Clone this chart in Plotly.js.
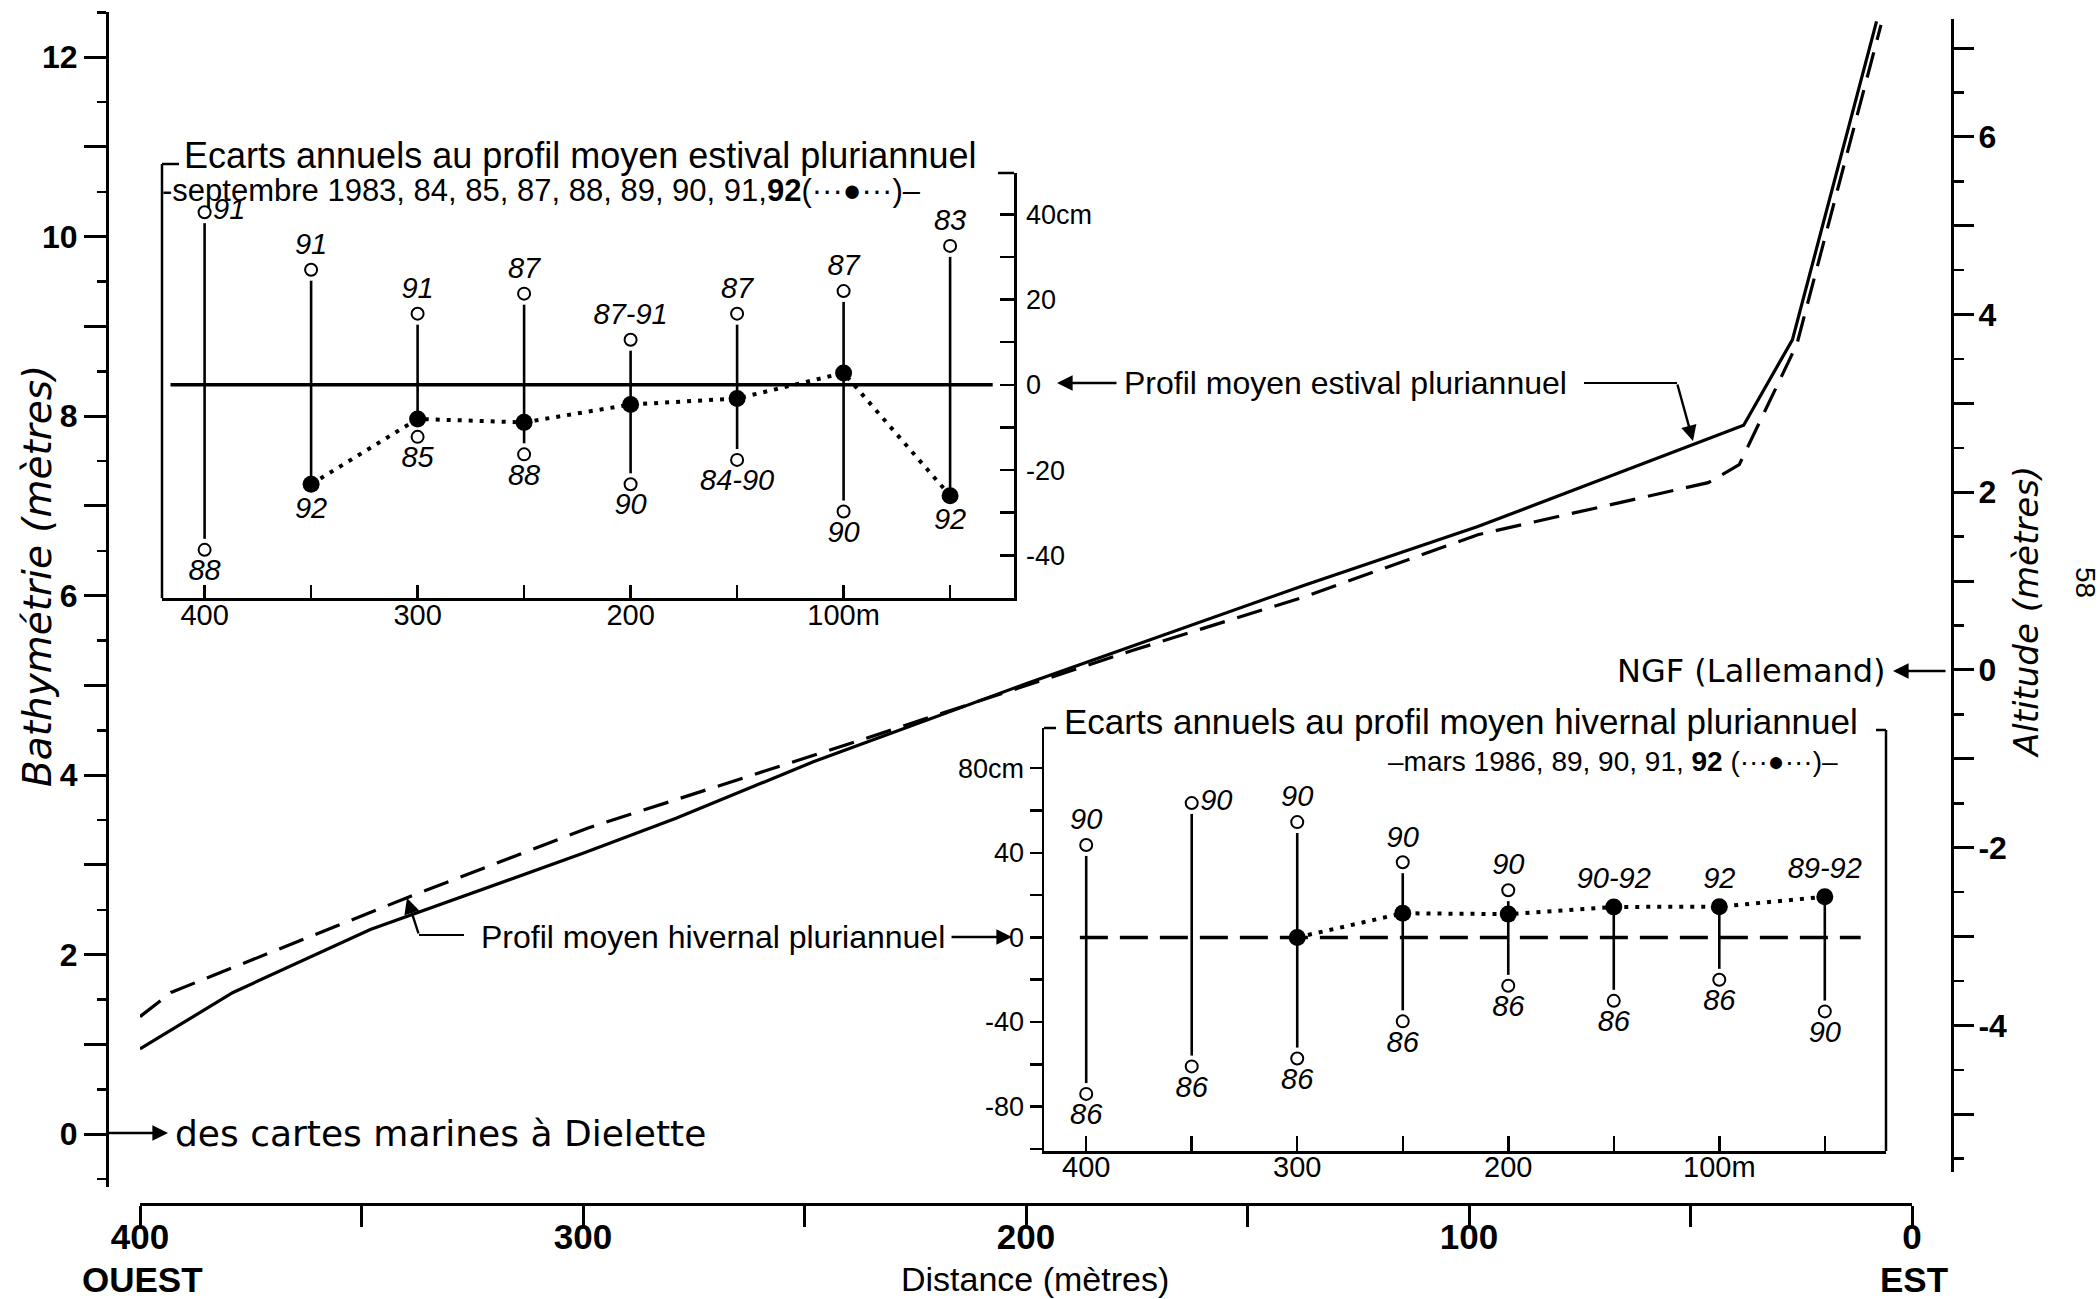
<!DOCTYPE html>
<html>
<head>
<meta charset="utf-8">
<script src="https://cdn.plot.ly/plotly-3.0.1.min.js"></script>
<style>html,body{margin:0;padding:0;background:#fff;}#chart{width:2100px;height:1299px;}</style>
</head>
<body>
<div id="chart"></div>
<script>
// ---------------- DATA ----------------
// Main profiles (distance in m from the east end, bathymetry in m)
const estivalX = [400, 379, 348, 300, 279, 248, 200, 137, 98, 38, 27, 8];
const estivalDepth = [0.95, 1.58, 2.28, 3.13, 3.52, 4.15, 5.02, 6.12, 6.77, 7.90, 8.85, 12.40];
const hivernalX = [400, 393, 340, 299, 238, 200, 176, 137, 98, 46, 39, 26, 7];
const hivernalDepth = [1.31, 1.58, 2.63, 3.41, 4.38, 5.00, 5.39, 5.99, 6.68, 7.26, 7.46, 8.80, 12.36];

// Inset stations
const stations = [400, 350, 300, 250, 200, 150, 100, 50];

// Summer inset (cm)
const summerHigh = [40.5, 27.0, 16.7, 21.4, 10.6, 16.7, 22.0, 32.6];
const summerHighYear = ['91', '91', '91', '87', '87-91', '87', '87', '83'];
const summerLow = [-38.7, null, -12.2, -16.3, -23.3, -17.6, -29.7, null];
const summerLowYear = ['88', '', '85', '88', '90', '84-90', '90', ''];
const summer92 = [null, -23.3, -8.0, -8.8, -4.6, -3.2, 2.8, -26.0];
const summer92Year = ['', '92', '', '', '', '', '', '92'];

// Winter inset (cm)
const winterHigh = [43.7, 63.5, 54.5, 35.5, 22.3, null, null, null];
const winterHighYear = ['90', '90', '90', '90', '90', '', '', ''];
const winterLow = [-74.0, -61.0, -57.3, -39.7, -22.9, -30.0, -20.0, -35.0];
const winterLowYear = ['86', '86', '86', '86', '86', '86', '86', '90'];
const winter92 = [null, null, 0, 11.4, 11.0, 14.4, 14.5, 19.2];
const winter92Year = ['', '', '', '', '', '90-92', '92', '89-92'];

// Tick labels
const distTickVals = [0, 50, 100, 150, 200, 250, 300, 350, 400];
const distTickText = ['0', '', '100', '', '200', '', '300', '', '400'];
const bathyTickVals = [0, 1, 2, 3, 4, 5, 6, 7, 8, 9, 10, 11, 12];
const bathyTickText = ['0', '', '2', '', '4', '', '6', '', '8', '', '10', '', '12'];
const altTickVals = [-5, -4, -3, -2, -1, 0, 1, 2, 3, 4, 5, 6, 7];
const altTickText = ['', '-4', '', '-2', '', '0', '', '2', '', '4', '', '6', ''];
const insetTickVals = [400, 350, 300, 250, 200, 150, 100, 50];
const insetTickText = ['400', '', '300', '', '200', '', '100m', ''];
const summerCmVals = [-40, -20, 0, 20, 40];
const summerCmText = ['-40', '-20', '0', '20', '40cm'];
const winterCmVals = [-80, -40, 0, 40, 80];
const winterCmText = ['-80', '-40', '0', '40', '80cm'];

// ---------------- HELPERS ----------------
const W = 2100, H = 1299;
const fx = p => p / W;
const fy = p => 1 - p / H;
const FONT = 'Liberation Sans, Arial, Helvetica, sans-serif';
const WIDE = 'DejaVu Sans, Verdana, sans-serif';

function segments(xs, a, b, c) {
  const X = [], Y = [];
  xs.forEach((x, i) => {
    const vals = [a[i], b[i], c[i]].filter(v => v !== null && v !== undefined);
    if (vals.length < 2) return;
    X.push(x, x, null);
    Y.push(Math.max(...vals), Math.min(...vals), null);
  });
  return {X, Y};
}

function insetTraces(xa, ya, high, highYr, low, lowYr, v92, yr92, highPos, pos92) {
  const seg = segments(stations, high, low, v92);
  const labelFont = {family: FONT, size: 29, style: 'italic', color: 'black'};
  const pts = [], ptsY = [];
  stations.forEach((x, i) => {
    if (high[i] !== null) { pts.push(x); ptsY.push(high[i]); }
    if (low[i] !== null) { pts.push(x); ptsY.push(low[i]); }
  });
  return [
    {x: seg.X, y: seg.Y, xaxis: xa, yaxis: ya, mode: 'lines', line: {color: 'black', width: 2.6}, hoverinfo: 'skip'},
    {x: pts, y: ptsY, xaxis: xa, yaxis: ya, mode: 'markers', marker: {color: 'white', size: 22, line: {width: 0}}, hoverinfo: 'skip'},
    {x: stations, y: v92, xaxis: xa, yaxis: ya, mode: 'lines', connectgaps: false,
     line: {color: 'black', width: 4, dash: '4px,7px'}, hoverinfo: 'skip'},
    {x: stations, y: high, text: highYr, xaxis: xa, yaxis: ya, mode: 'markers+text', textposition: highPos,
     textfont: labelFont, marker: {color: 'white', size: 12, line: {color: 'black', width: 2}}, hoverinfo: 'skip'},
    {x: stations, y: low, text: lowYr, xaxis: xa, yaxis: ya, mode: 'markers+text', textposition: 'bottom center',
     textfont: labelFont, marker: {color: 'white', size: 12, line: {color: 'black', width: 2}}, hoverinfo: 'skip'},
    {x: stations, y: v92, text: yr92, xaxis: xa, yaxis: ya, mode: 'markers+text', textposition: pos92,
     textfont: labelFont, marker: {color: 'black', size: 17}, hoverinfo: 'skip'}
  ];
}

// ---------------- TRACES ----------------
const traces = [
  {x: estivalX, y: estivalDepth, mode: 'lines', line: {color: 'black', width: 3.2}, xaxis: 'x', yaxis: 'y', hoverinfo: 'skip'},
  {x: hivernalX, y: hivernalDepth, mode: 'lines', line: {color: 'black', width: 3.2, dash: '26px,13px'}, xaxis: 'x', yaxis: 'y', hoverinfo: 'skip'},
  {x: [200], y: [0], mode: 'markers', marker: {opacity: 0}, xaxis: 'x', yaxis: 'y5', hoverinfo: 'skip'}
].concat(
  insetTraces('x2', 'y2', summerHigh, summerHighYear, summerLow, summerLowYear, summer92, summer92Year,
    ['middle right', 'top center', 'top center', 'top center', 'top center', 'top center', 'top center', 'top center'],
    'bottom center'),
  insetTraces('x3', 'y3', winterHigh, winterHighYear, winterLow, winterLowYear, winter92, winter92Year,
    ['top center', 'middle right', 'top center', 'top center', 'top center', 'top center', 'top center', 'top center'],
    'top center')
);

// ---------------- LAYOUT ----------------
const axBase = {showgrid: false, zeroline: false, showline: true, linecolor: 'black', tickcolor: 'black', fixedrange: true};
const tickF = s => ({family: FONT, size: s, color: 'black'});

const layout = {
  width: W, height: H,
  margin: {l: 0, r: 0, t: 0, b: 0},
  paper_bgcolor: 'white', plot_bgcolor: 'rgba(0,0,0,0)',
  showlegend: false,
  font: {family: FONT, color: 'black'},
  xaxis: Object.assign({}, axBase, {
    domain: [fx(140), fx(1912)], range: [400, 0], anchor: 'free', position: fy(1204),
    linewidth: 3, ticks: 'outside', ticklen: 21, tickwidth: 3,
    tickmode: 'array', tickvals: distTickVals, ticktext: distTickText,
    tickfont: {family: FONT, size: 35, weight: 'bold', color: 'black'}, ticklabelstandoff: -20
  }),
  yaxis: Object.assign({}, axBase, {
    domain: [fy(1187), fy(12.4)], range: [-0.588, 12.499], anchor: 'free', position: fx(107),
    linewidth: 3, ticks: 'outside', ticklen: 22, tickwidth: 3,
    tickmode: 'array', tickvals: bathyTickVals, ticktext: bathyTickText,
    minor: {dtick: 0.5, tick0: 0, ticks: 'outside', ticklen: 9, tickwidth: 2.5, tickcolor: 'black'},
    tickfont: {family: FONT, size: 32, weight: 'bold', color: 'black'}, ticklabelstandoff: 0
  }),
  yaxis5: Object.assign({}, axBase, {
    domain: [fy(1172), fy(18.7)], range: [-5.65, 7.33], anchor: 'free', position: fx(1952), side: 'right',
    linewidth: 3, ticks: 'outside', ticklen: 20, tickwidth: 3,
    tickmode: 'array', tickvals: altTickVals, ticktext: altTickText,
    minor: {dtick: 0.5, tick0: 0, ticks: 'outside', ticklen: 10, tickwidth: 2.5, tickcolor: 'black'},
    tickfont: {family: FONT, size: 32, weight: 'bold', color: 'black'}, ticklabelstandoff: -2
  }),
  xaxis2: Object.assign({}, axBase, {
    domain: [fx(162), fx(1014)], range: [420, 20], anchor: 'y2',
    linewidth: 2.5, ticks: 'inside', ticklen: 13, tickwidth: 2.5,
    tickmode: 'array', tickvals: insetTickVals, ticktext: insetTickText,
    tickfont: tickF(29), ticklabelstandoff: -10
  }),
  yaxis2: Object.assign({}, axBase, {
    domain: [fy(598), fy(173)], range: [-50, 49.7], anchor: 'x2', side: 'right',
    linewidth: 2.5, ticks: 'inside', ticklen: 14, tickwidth: 2.5,
    tickmode: 'array', tickvals: summerCmVals, ticktext: summerCmText,
    minor: {dtick: 10, tick0: 0, ticks: 'inside', ticklen: 14, tickwidth: 2.5, tickcolor: 'black'},
    tickfont: tickF(27), ticklabelstandoff: 4
  }),
  xaxis3: Object.assign({}, axBase, {
    domain: [fx(1044), fx(1886)], range: [420, 21], anchor: 'y3',
    linewidth: 2.5, ticks: 'inside', ticklen: 15, tickwidth: 2.5,
    tickmode: 'array', tickvals: insetTickVals, ticktext: insetTickText,
    tickfont: tickF(29), ticklabelstandoff: -11
  }),
  yaxis3: Object.assign({}, axBase, {
    domain: [fy(1151), fy(728)], range: [-101, 99], anchor: 'x3', side: 'left',
    linewidth: 2.5, ticks: 'outside', ticklen: 12, tickwidth: 2.5,
    tickmode: 'array', tickvals: winterCmVals, ticktext: winterCmText,
    minor: {dtick: 20, tick0: 0, ticks: 'outside', ticklen: 12, tickwidth: 2.5, tickcolor: 'black'},
    tickfont: tickF(27), ticklabelstandoff: 0
  }),
  shapes: [
    // inset reference profiles (zero lines)
    {type: 'line', xref: 'x2', yref: 'y2', x0: 416, x1: 30, y0: 0, y1: 0, layer: 'below', line: {color: 'black', width: 3.5}},
    {type: 'line', xref: 'x3', yref: 'y3', x0: 403, x1: 33, y0: 0, y1: 0, layer: 'below', line: {color: 'black', width: 3.5, dash: '28px,12px'}},
    // summer inset frame
    {type: 'line', xref: 'paper', yref: 'paper', x0: fx(162), x1: fx(162), y0: fy(164), y1: fy(598), line: {color: 'black', width: 2.5}},
    {type: 'line', xref: 'paper', yref: 'paper', x0: fx(162), x1: fx(179), y0: fy(164), y1: fy(164), line: {color: 'black', width: 2.5}},
    {type: 'line', xref: 'paper', yref: 'paper', x0: fx(998), x1: fx(1014), y0: fy(173), y1: fy(173), line: {color: 'black', width: 2.5}},
    // winter inset frame
    {type: 'line', xref: 'paper', yref: 'paper', x0: fx(1886), x1: fx(1886), y0: fy(730), y1: fy(1151), line: {color: 'black', width: 2.5}},
    {type: 'line', xref: 'paper', yref: 'paper', x0: fx(1876), x1: fx(1886), y0: fy(730), y1: fy(730), line: {color: 'black', width: 2.5}},
    {type: 'line', xref: 'paper', yref: 'paper', x0: fx(1044), x1: fx(1056), y0: fy(728), y1: fy(728), line: {color: 'black', width: 2.5}},
    // leader lines
    {type: 'line', xref: 'paper', yref: 'paper', x0: fx(1584), x1: fx(1677), y0: fy(383), y1: fy(383), line: {color: 'black', width: 2.2}},
    {type: 'line', xref: 'paper', yref: 'paper', x0: fx(419), x1: fx(464), y0: fy(935), y1: fy(935), line: {color: 'black', width: 2.2}}
  ],
  annotations: []
};

function txt(text, x, y, opts) {
  layout.annotations.push(Object.assign({
    text: text, x: fx(x), y: fy(y), xref: 'paper', yref: 'paper', showarrow: false,
    xanchor: 'center', yanchor: 'middle', font: {family: FONT, size: 30, color: 'black'}
  }, opts || {}));
}
function arrow(tailX, tailY, headX, headY) {
  layout.annotations.push({
    text: '', x: fx(headX), y: fy(headY), xref: 'paper', yref: 'paper',
    ax: tailX - headX, ay: tailY - headY, axref: 'pixel', ayref: 'pixel',
    showarrow: true, arrowhead: 2, arrowsize: 1.3, arrowwidth: 2.4, arrowcolor: 'black', standoff: 0, startstandoff: 0
  });
}

// axis titles
txt('Bathymétrie (mètres)', 37, 576, {textangle: -90, font: {family: WIDE, size: 39, style: 'italic', color: 'black'}});
txt('Altitude (mètres)', 2026, 612, {textangle: -90, font: {family: WIDE, size: 34, style: 'italic', color: 'black'}});
txt('58', 2086, 582, {textangle: 90, font: {family: FONT, size: 28, color: 'black'}});
txt('Distance (mètres)', 1035, 1279, {font: {family: FONT, size: 34, color: 'black'}});
txt('OUEST', 142, 1279, {font: {family: FONT, size: 35, weight: 'bold', color: 'black'}});
txt('EST', 1914, 1279, {font: {family: FONT, size: 35, weight: 'bold', color: 'black'}});

// inset titles
txt('Ecarts annuels au profil moyen estival pluriannuel', 182, 155, {xanchor: 'left', font: {family: FONT, size: 36, color: 'black'}});
txt('-septembre 1983, 84, 85, 87, 88, 89, 90, 91,<b>92</b>(···●···)–', 160, 190, {xanchor: 'left', font: {family: FONT, size: 31, color: 'black'}});
txt('Ecarts annuels au profil moyen hivernal pluriannuel', 1062, 721, {xanchor: 'left', font: {family: FONT, size: 35, color: 'black'}});
txt('–mars 1986, 89, 90, 91, <b>92</b> (···●···)–', 1840, 762, {xanchor: 'right', font: {family: FONT, size: 28, color: 'black'}});

// profile labels
txt('Profil moyen estival pluriannuel', 1122, 383, {xanchor: 'left', font: {family: FONT, size: 32, color: 'black'}});
arrow(1118, 383, 1057, 383);
arrow(1677, 383, 1693, 441);
txt('Profil moyen hivernal pluriannuel', 479, 937, {xanchor: 'left', font: {family: FONT, size: 32, color: 'black'}});
arrow(950, 937, 1012, 937);
arrow(419, 935, 407, 898);

// reference datums
txt('NGF (Lallemand)', 1888, 671, {xanchor: 'right', font: {family: WIDE, size: 32, color: 'black'}});
arrow(1947, 671, 1893, 671);
txt('des cartes marines à Dielette', 173, 1133, {xanchor: 'left', font: {family: WIDE, size: 36, color: 'black'}});
arrow(107, 1133, 168, 1133);

Plotly.newPlot('chart', traces, layout, {staticPlot: true, displayModeBar: false});
</script>
</body>
</html>
